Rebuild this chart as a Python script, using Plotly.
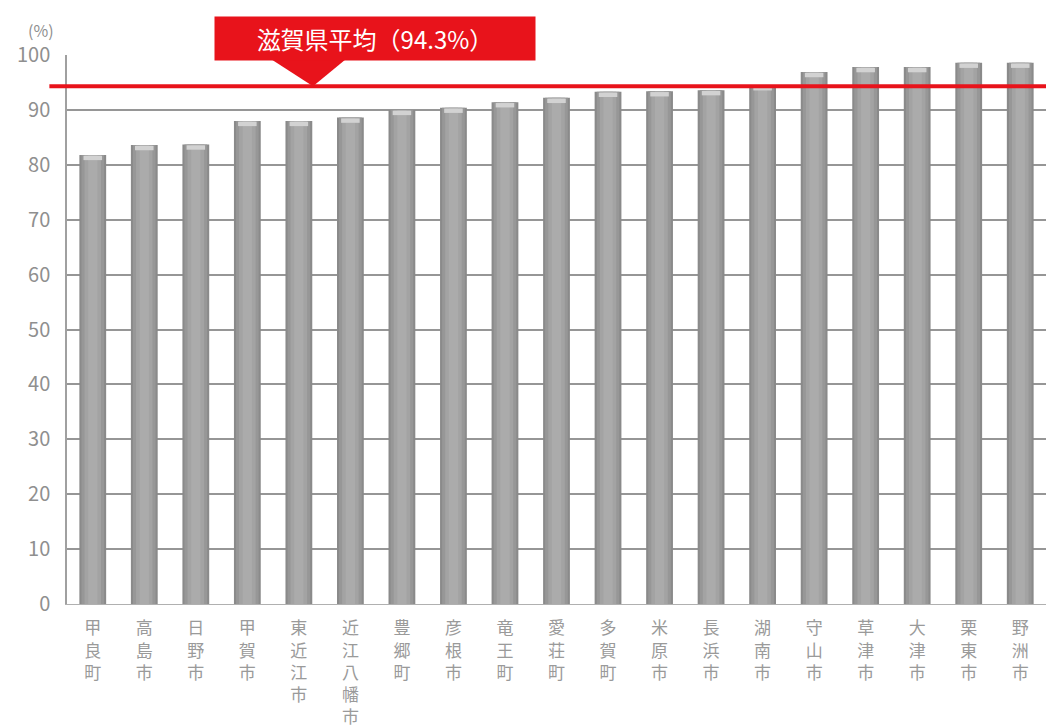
import plotly.graph_objects as go

# 市町別の割合（%）
municipalities = ["甲良町", "高島市", "日野市", "甲賀市", "東近江市", "近江八幡市", "豊郷町",
                  "彦根市", "竜王町", "愛荘町", "多賀町", "米原市", "長浜市", "湖南市",
                  "守山市", "草津市", "大津市", "栗東市", "野洲市"]
rates = [81.8, 83.6, 83.7, 88.0, 88.0, 88.6, 90.0, 90.4, 91.4, 92.2, 93.3, 93.4, 93.6, 94.5,
         96.9, 97.8, 97.8, 98.6, 98.6]
pref_average = 94.3
y_ticks = [0, 10, 20, 30, 40, 50, 60, 70, 80, 90, 100]

FONT = "Noto Sans CJK JP"
RED = "#e8131b"
TEXT_GRAY = "#8f8f8f"

# 縦書き風のカテゴリラベル
tick_text = ["<br>".join(list(name)) for name in municipalities]

fig = go.Figure()

# 円柱風に見せるため、幅の異なる棒を重ねる
layers = [(0.52, "#8a8a8a"), (0.44, "#979797"), (0.32, "#a3a3a3"), (0.18, "#ababab")]
for w, c in layers:
    fig.add_trace(go.Bar(
        x=municipalities, y=rates, width=w,
        marker=dict(color=c, line=dict(width=0)),
        hoverinfo="x+y", showlegend=False,
    ))

# 円柱上面のハイライト
cap_h = 0.8
fig.add_trace(go.Bar(
    x=municipalities, y=[cap_h] * len(rates), base=[v - cap_h - 0.15 for v in rates],
    width=0.36, marker=dict(color="#d2d2d2", line=dict(width=0)),
    hoverinfo="skip", showlegend=False,
))

fig.update_layout(
    width=1046, height=726,
    margin=dict(l=67, r=0, t=55, b=122),
    barmode="overlay",
    plot_bgcolor="white", paper_bgcolor="white",
    font=dict(family=FONT, color=TEXT_GRAY),
    xaxis=dict(
        tickmode="array", tickvals=municipalities, ticktext=tick_text,
        tickfont=dict(size=17, color="#9a9a9a"),
        showgrid=False, showline=True, linecolor="#b0b0b0", linewidth=1,
        ticks="", ticklabelstandoff=9, automargin=False,
    ),
    yaxis=dict(
        range=[0, 100], tickvals=y_ticks,
        tickfont=dict(size=20, color=TEXT_GRAY),
        showgrid=True, gridcolor="#969696", gridwidth=1.5,
        showline=True, linecolor="#a0a0a0", linewidth=1.5,
        zeroline=False, ticks="", ticklabelstandoff=11, automargin=False,
    ),
)

# 単位
fig.add_annotation(xref="paper", yref="paper", x=-0.027, y=1.0455, text="(%)",
                   xanchor="center", yanchor="middle",
                   showarrow=False, font=dict(size=16, color=TEXT_GRAY, family=FONT))

# 県平均ライン
fig.add_shape(type="line", xref="paper", yref="y", x0=-0.018, x1=1.0,
              y0=pref_average, y1=pref_average, line=dict(color=RED, width=4), layer="above")

# 吹き出しの三角部分
fig.add_shape(type="path", xref="paper", yref="y",
              path=f"M 0.207,99.4 L 0.286,99.4 L 0.2513,{pref_average} Z",
              fillcolor=RED, line=dict(width=0), layer="above")

# 吹き出しの本体とテキスト
fig.add_annotation(xref="paper", yref="paper", x=0.3146, y=1.0305,
                   xanchor="center", yanchor="middle",
                   text=f"滋賀県平均（{pref_average}%）", showarrow=False,
                   width=320, height=43, bgcolor=RED, borderpad=0,
                   font=dict(size=24, color="white", family=FONT))

fig.write_html("out.html")
